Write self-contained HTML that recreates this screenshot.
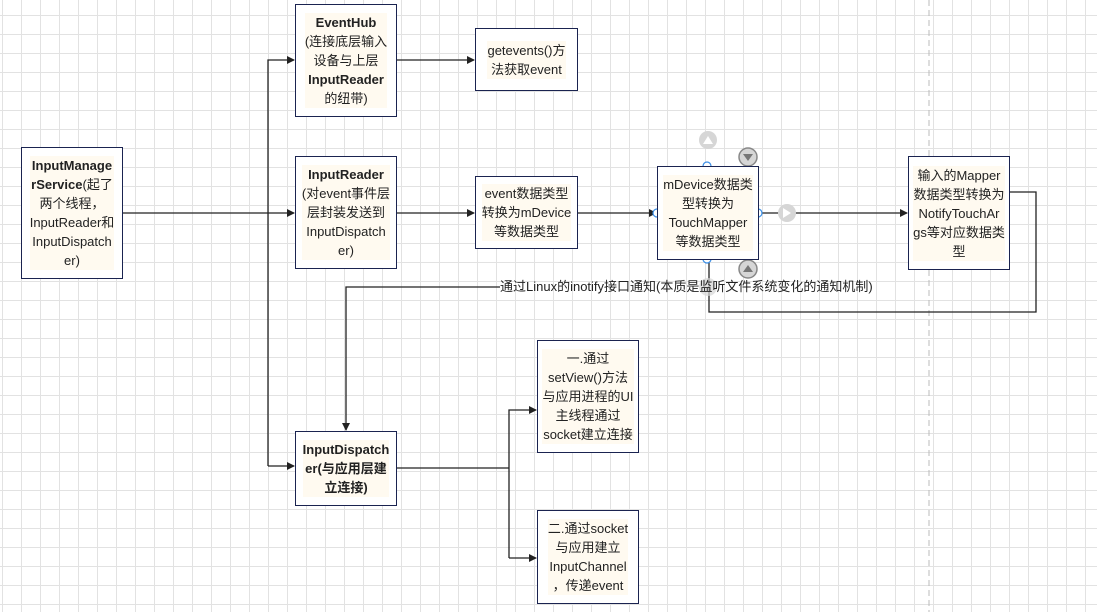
<!DOCTYPE html>
<html><head><meta charset="utf-8"><style>
body{margin:0;width:1097px;height:612px;overflow:hidden;background:#fff;font-family:"Liberation Sans","Noto Sans CJK SC",sans-serif;}
#bg{position:absolute;left:0;top:0;width:1097px;height:612px;
background-image:linear-gradient(to right,#e2e2e2 1px,transparent 1px),linear-gradient(to bottom,#e2e2e2 1px,transparent 1px);
background-size:19px 19px;background-position:2px 15px;}
.b{position:absolute;box-sizing:border-box;border:1.5px solid #1a2350;background:#fff;display:flex;align-items:center;justify-content:center;text-align:center;font-size:13px;line-height:19px;color:#222;padding:0;white-space:nowrap;}
.b span{background:#fffaf0}
b{font-weight:bold}
svg{position:absolute;left:0;top:0}
.lbl{position:absolute;font-size:13px;color:#222;white-space:nowrap;line-height:16px}
</style></head><body>
<div id="bg"></div>
<svg width="1097" height="612">
<defs><marker id="a" markerWidth="8" markerHeight="8" refX="7" refY="4" orient="auto" markerUnits="userSpaceOnUse"><path d="M0,0 L8,4 L0,8z" fill="#222"/></marker></defs>
<line x1="929" y1="0" x2="929" y2="612" stroke="#bbb" stroke-dasharray="6,4"/>
<g stroke="#222" stroke-width="1.3" fill="none">
<line x1="122" y1="213" x2="294" y2="213" marker-end="url(#a)"/>
<polyline points="268,466 268,60 294,60" marker-end="url(#a)"/>
<line x1="268" y1="466" x2="294" y2="466" marker-end="url(#a)"/>
<line x1="396" y1="60" x2="474" y2="60" marker-end="url(#a)"/>
<line x1="396" y1="213" x2="474" y2="213" marker-end="url(#a)"/>
<line x1="577" y1="213" x2="656" y2="213" marker-end="url(#a)"/>
<line x1="758" y1="213" x2="907" y2="213" marker-end="url(#a)"/>
<polyline points="1009,192 1036,192 1036,312 709,312 709,259"/>
<polyline points="500,287 346,287 346,430" marker-end="url(#a)"/>
<line x1="396" y1="468" x2="509" y2="468"/>
<polyline points="509,558 509,410 536,410" marker-end="url(#a)"/>
<line x1="509" y1="558" x2="536" y2="558" marker-end="url(#a)"/>
</g>
<g fill="#fff" stroke="#3a8ee6" stroke-width="1.2">
<circle cx="707" cy="166" r="4"/><circle cx="707" cy="259" r="4"/><circle cx="657" cy="213" r="4"/><circle cx="758" cy="213" r="4"/>
</g>
<g fill="#d6d6d6"><circle cx="708" cy="140" r="9"/><circle cx="787" cy="213" r="9"/><circle cx="708" cy="287" r="9" opacity=".7"/></g>
<g fill="#fff"><path d="M703,144 L708,136 L713,144z"/><path d="M783,208 L791,213 L783,218z"/></g>
<circle cx="748" cy="157" r="9" fill="#d6d6d6" stroke="#888" stroke-width="1.5"/><path d="M743,154 L753,154 L748,161z" fill="#777"/>
<circle cx="748" cy="269" r="9" fill="#d6d6d6" stroke="#888" stroke-width="1.5"/><path d="M743,272 L753,272 L748,265z" fill="#777"/>
</svg>
<div class="lbl" style="left:500px;top:279px">通过Linux的inotify接口通知(本质是监听文件系统变化的通知机制)</div>
<div class="b" style="left:21px;top:147px;width:102px;height:132px"><span><b>InputManage<br>rService</b>(起了<br>两个线程，<br>InputReader和<br>InputDispatch<br>er)</span></div>
<div class="b" style="left:295px;top:4px;width:102px;height:113px"><span><b>EventHub</b><br>(连接底层输入<br>设备与上层<br><b>InputReader</b><br>的纽带)</span></div>
<div class="b" style="left:295px;top:156px;width:102px;height:113px"><span><b>InputReader</b><br>(对event事件层<br>层封装发送到<br>InputDispatch<br>er)</span></div>
<div class="b" style="left:475px;top:28px;width:103px;height:63px"><span>getevents()方<br>法获取event</span></div>
<div class="b" style="left:475px;top:176px;width:103px;height:73px"><span>event数据类型<br>转换为mDevice<br>等数据类型</span></div>
<div class="b" style="left:657px;top:166px;width:102px;height:94px"><span>mDevice数据类<br>型转换为<br>TouchMapper<br>等数据类型</span></div>
<div class="b" style="left:908px;top:156px;width:102px;height:114px"><span>输入的Mapper<br>数据类型转换为<br>NotifyTouchAr<br>gs等对应数据类<br>型</span></div>
<div class="b" style="left:295px;top:431px;width:102px;height:75px"><span><b>InputDispatch<br>er(与应用层建<br>立连接)</b></span></div>
<div class="b" style="left:537px;top:340px;width:102px;height:113px"><span>一.通过<br>setView()方法<br>与应用进程的UI<br>主线程通过<br>socket建立连接</span></div>
<div class="b" style="left:537px;top:510px;width:102px;height:94px"><span>二.通过socket<br>与应用建立<br>InputChannel<br>，传递event</span></div>
</body></html>
